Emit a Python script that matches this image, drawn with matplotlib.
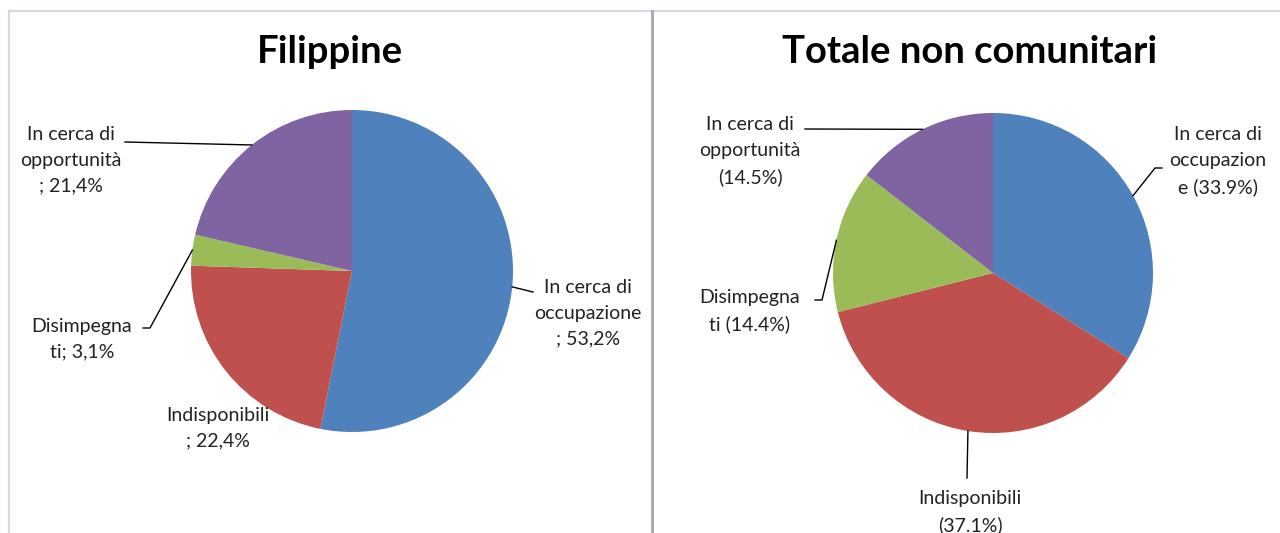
import numpy as np
import matplotlib
matplotlib.use("Agg")
import matplotlib.pyplot as plt

plt.rcParams['font.family'] = ['Lato', 'DejaVu Sans']

categories = ["In cerca di occupazione", "Indisponibili", "Disimpegnati", "In cerca di opportunità"]
colors = ["#4F81BD", "#C0504D", "#9BBB59", "#8064A2"]

titles = ["Filippine", "Totale non comunitari"]
values_fil = [53.2, 22.4, 3.1, 21.4]
values_tot = [33.9, 37.1, 14.4, 14.5]

labels_fil = ["In cerca di\noccupazione\n; 53,2%", "Indisponibili\n; 22,4%",
              "Disimpegna\nti; 3,1%", "In cerca di\nopportunità\n; 21,4%"]
labels_tot = ["In cerca di\noccupazion\ne (33.9%)", "Indisponibili\n(37.1%)",
              "Disimpegna\nti (14.4%)", "In cerca di\nopportunità\n(14.5%)"]

W, H = 1280, 533
fig = plt.figure(figsize=(W / 100, H / 100), dpi=100)
ax = fig.add_axes([0, 0, 1, 1])

def Y(y):
    return H - y

panels = [
    dict(vals=values_fil, labels=labels_fil, title=titles[0], center=(352, 271), r=161, tx=330,
         lab=[dict(tx=588, ty=279, elbow=[(533, 292)]),
              dict(tx=218, ty=407, elbow=None),
              dict(tx=82, ty=318, elbow=[(150, 328), (143, 328)]),
              dict(tx=71, ty=126, elbow=[(125, 142)])]),
    dict(vals=values_tot, labels=labels_tot, title=titles[1], center=(993, 273), r=160, tx=970,
         lab=[dict(tx=1218, ty=126, elbow=[(1155, 168), (1162, 168)]),
              dict(tx=970, ty=490, elbow=[(967, 478)]),
              dict(tx=750, ty=289, elbow=[(822, 300), (815, 300)]),
              dict(tx=750, ty=116, elbow=[(805, 129)])]),
]

for p in panels:
    cx, cy = p["center"]
    r = p["r"]
    wedges, _ = ax.pie(p["vals"], colors=colors, startangle=90, counterclock=False,
                       center=(cx, Y(cy)), radius=r, frame=True,
                       wedgeprops=dict(linewidth=0))
    ax.text(p["tx"], Y(52), p["title"], ha="center", va="center", fontsize=27.5,
            fontweight="bold", color="black")
    for w, lab, info in zip(wedges, p["labels"], p["lab"]):
        ang = np.deg2rad((w.theta1 + w.theta2) / 2)
        ex, ey = cx + r * np.cos(ang), Y(cy) + r * np.sin(ang)
        if info["elbow"]:
            xs = [ex] + [e[0] for e in info["elbow"]]
            ys = [ey] + [Y(e[1]) for e in info["elbow"]]
            ax.plot(xs, ys, color="black", lw=1)
        ax.text(info["tx"], Y(info["ty"]), lab, ha="center", va="top", fontsize=14,
                color="#222222", linespacing=1.62)

ax.set_xlim(0, W)
ax.set_ylim(0, H)
ax.axis('off')

# frames
ax.plot([9, W], [Y(11), Y(11)], color="#D3D9E6", lw=1.5)
ax.plot([9, 9], [Y(11), 0], color="#D3D9E6", lw=1.5)
ax.plot([652, 652], [Y(11), 0], color="#A6A6A6", lw=2)

fig.savefig("out.png", dpi=100)
